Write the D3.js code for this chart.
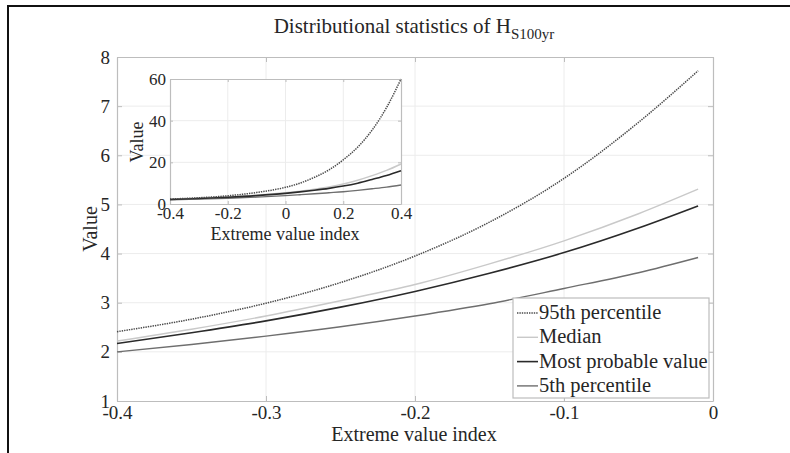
<!DOCTYPE html>
<html>
<head>
<meta charset="utf-8">
<script src="https://cdn.jsdelivr.net/npm/d3@7"></script>
<style>
    body { margin: 0; background: #fff; }
    svg { display: block; }
    text { font-family: "Liberation Serif", "DejaVu Serif", serif; fill: #262626; }
</style>
</head>
<body>
<div id="chart"></div>
<script>
// main plot values
var xiMain = [-0.4, -0.35, -0.3, -0.25, -0.2, -0.15, -0.1, -0.05, -0.01];
var p95Main = [2.41, 2.665, 2.99, 3.41, 3.95, 4.64, 5.53, 6.67, 7.72];
var medianMain = [2.22, 2.46, 2.73, 3.04, 3.37, 3.79, 4.26, 4.81, 5.31];
var mpvMain = [2.17, 2.39, 2.63, 2.91, 3.23, 3.60, 4.02, 4.52, 4.97];
var p5Main = [2.0, 2.15, 2.32, 2.51, 2.73, 2.98, 3.29, 3.61, 3.92];

// inset values
var xiInset = [-0.4, -0.3, -0.2, -0.1, 0, 0.05, 0.1, 0.15, 0.2, 0.25, 0.3, 0.35, 0.4];
var p95Inset = [2.41, 2.99, 3.95, 5.53, 8.0, 10.0, 12.8, 16.3, 21.2, 27.3, 35.5, 46.3, 60];
var medianInset = [2.22, 2.73, 3.37, 4.26, 5.45, 6.2, 7.1, 8.2, 9.6, 11.4, 13.6, 16.1, 19.2];
var mpvInset = [2.17, 2.63, 3.23, 4.02, 5.08, 5.8, 6.6, 7.5, 8.6, 10.0, 11.8, 13.7, 16.0];
var p5Inset = [2.0, 2.32, 2.73, 3.29, 4.0, 4.45, 4.9, 5.4, 5.9, 6.55, 7.3, 8.1, 9.1];

var seriesNames = ["95th percentile", "Median", "Most probable value", "5th percentile"];
var mainTicksX = [-0.4, -0.3, -0.2, -0.1, 0];
var mainTicksY = [1, 2, 3, 4, 5, 6, 7, 8];
var insetTicksX = [-0.4, -0.2, 0, 0.2, 0.4];
var insetTicksY = [0, 20, 40, 60];

var styles = [
    {color: "#4a4a4a", width: 1.5, dash: "1.4,1"},
    {color: "#c9c9c9", width: 1.4, dash: null},
    {color: "#2a2a2a", width: 1.6, dash: null},
    {color: "#6e6e6e", width: 1.4, dash: null}
];
// draw light lines first so the darker ones sit on top
var drawOrder = [3, 1, 2, 0];

var W = 790, H = 453;
var svg = d3.select("#chart").append("svg")
    .attr("width", W)
    .attr("height", H);

svg.append("rect").attr("width", W).attr("height", H).attr("fill", "#fff");

// outer frame (top and left only)
svg.append("path")
    .attr("d", "M8,453 L8,6 L790,6")
    .attr("fill", "none")
    .attr("stroke", "#111")
    .attr("stroke-width", 2);

function fmt(d) {
    return String(d);
}

function styleAxis(sel, font) {
    sel.attr("font-family", null);
    sel.select(".domain").attr("stroke", "#bdbdbd").attr("stroke-width", 1.2);
    sel.selectAll(".tick line").attr("stroke", "#bdbdbd");
    sel.selectAll(".tick text")
        .style("font-family", "'Liberation Serif', serif")
        .style("font-size", font + "px")
        .style("fill", "#262626");
}

function drawAxes(g, x, y, ticksX, ticksY, opts) {
    var x0 = x.range()[0], x1 = x.range()[1];
    var y0 = y.range()[0], y1 = y.range()[1];

    g.append("rect")
        .attr("x", x0).attr("y", y1)
        .attr("width", x1 - x0).attr("height", y0 - y1)
        .attr("fill", "#fff");

    // grid
    g.selectAll(".gx").data(ticksX.slice(1, -1)).enter().append("line")
        .attr("x1", function(d) { return x(d); })
        .attr("x2", function(d) { return x(d); })
        .attr("y1", y0).attr("y2", y1)
        .attr("stroke", "#ececec").attr("stroke-width", 1);
    g.selectAll(".gy").data(ticksY.slice(1, -1)).enter().append("line")
        .attr("y1", function(d) { return y(d); })
        .attr("y2", function(d) { return y(d); })
        .attr("x1", x0).attr("x2", x1)
        .attr("stroke", "#ececec").attr("stroke-width", 1);

    // axes with inward ticks on all four sides
    var tl = opts.tick;
    g.append("g").attr("transform", "translate(0," + y0 + ")")
        .call(d3.axisBottom(x).tickValues(ticksX).tickSizeInner(-tl).tickSizeOuter(0).tickPadding(opts.padX + tl).tickFormat(fmt))
        .call(styleAxis, opts.font);
    g.append("g").attr("transform", "translate(0," + y1 + ")")
        .call(d3.axisTop(x).tickValues(ticksX).tickSizeInner(-tl).tickSizeOuter(0).tickFormat(""))
        .call(styleAxis, opts.font);
    g.append("g").attr("transform", "translate(" + x0 + ",0)")
        .call(d3.axisLeft(y).tickValues(ticksY).tickSizeInner(-tl).tickSizeOuter(0).tickPadding(opts.padY + tl).tickFormat(fmt))
        .call(styleAxis, opts.font);
    g.append("g").attr("transform", "translate(" + x1 + ",0)")
        .call(d3.axisRight(y).tickValues(ticksY).tickSizeInner(-tl).tickSizeOuter(0).tickFormat(""))
        .call(styleAxis, opts.font);
}

function drawLines(g, x, y, xs, series) {
    var line = d3.line()
        .x(function(d) { return x(d[0]); })
        .y(function(d) { return y(d[1]); })
        .curve(d3.curveMonotoneX);
    drawOrder.forEach(function(i) {
        g.append("path")
            .datum(xs.map(function(v, j) { return [v, series[i][j]]; }))
            .attr("d", line)
            .attr("fill", "none")
            .attr("stroke", styles[i].color)
            .attr("stroke-width", styles[i].width)
            .attr("stroke-dasharray", styles[i].dash);
    });
}

// ---------- main plot ----------
var x = d3.scaleLinear().domain([-0.4, 0]).range([117, 713]);
var y = d3.scaleLinear().domain([1, 8]).range([401, 57]);

var main = svg.append("g");
drawAxes(main, x, y, mainTicksX, mainTicksY, {tick: 5, font: 19, padX: 0, padY: 2});
drawLines(main, x, y, xiMain, [p95Main, medianMain, mpvMain, p5Main]);

svg.append("text")
    .attr("x", 414)
    .attr("y", 441)
    .attr("text-anchor", "middle")
    .attr("font-size", 20)
    .text("Extreme value index");

svg.append("text")
    .attr("transform", "translate(97,229) rotate(-90)")
    .attr("text-anchor", "middle")
    .attr("font-size", 20)
    .text("Value");

var title = svg.append("text")
    .attr("x", 414)
    .attr("y", 33)
    .attr("text-anchor", "middle")
    .attr("font-size", 21);
title.append("tspan").text("Distributional statistics of H");
title.append("tspan").attr("dy", 6).attr("font-size", 15).text("S100yr");

// legend
var legend = svg.append("g").attr("transform", "translate(513,298)");
legend.append("rect")
    .attr("width", 196).attr("height", 100)
    .attr("fill", "#fff")
    .attr("stroke", "#bdbdbd")
    .attr("stroke-width", 1.2);
var item = legend.selectAll(".item").data(seriesNames).enter().append("g")
    .attr("transform", function(d, i) { return "translate(0," + (15 + i * 24.3) + ")"; });
item.append("line")
    .attr("x1", 4).attr("x2", 25)
    .attr("stroke", function(d, i) { return styles[i].color; })
    .attr("stroke-width", function(d, i) { return styles[i].width; })
    .attr("stroke-dasharray", function(d, i) { return styles[i].dash; });
item.append("text")
    .attr("x", 26)
    .attr("y", 6)
    .attr("font-size", 20.5)
    .text(function(d) { return d; });

// ---------- inset ----------
var xi = d3.scaleLinear().domain([-0.4, 0.4]).range([170, 401]);
var yi = d3.scaleLinear().domain([0, 60]).range([204, 79]);

var inset = svg.append("g");
drawAxes(inset, xi, yi, insetTicksX, insetTicksY, {tick: 3, font: 17, padX: 0, padY: 1});
drawLines(inset, xi, yi, xiInset, [p95Inset, medianInset, mpvInset, p5Inset]);

svg.append("text")
    .attr("x", 285)
    .attr("y", 240)
    .attr("text-anchor", "middle")
    .attr("font-size", 18)
    .text("Extreme value index");

svg.append("text")
    .attr("transform", "translate(143,142) rotate(-90)")
    .attr("text-anchor", "middle")
    .attr("font-size", 18)
    .text("Value");
</script>
</body>
</html>
